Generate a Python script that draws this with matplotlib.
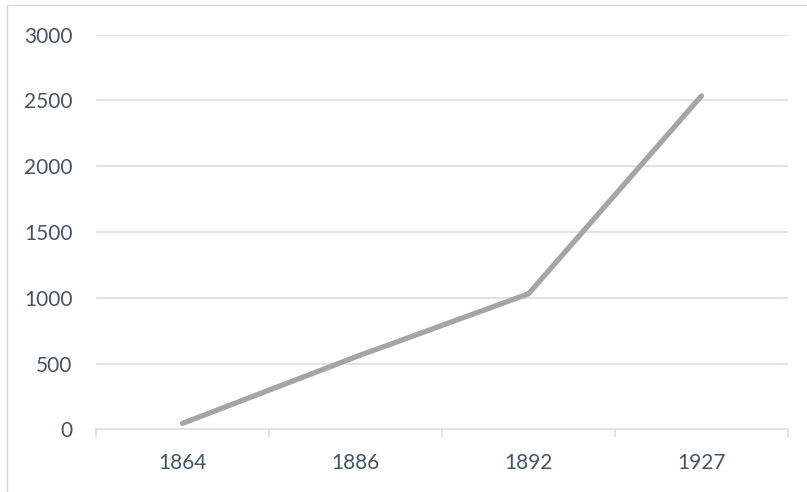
import matplotlib
matplotlib.use("Agg")
import matplotlib.pyplot as plt
from matplotlib.patches import Rectangle

categories = ["1864", "1886", "1892", "1927"]
values = [45, 550, 1030, 2535]
y_ticks = [0, 500, 1000, 1500, 2000, 2500, 3000]

W, H = 807, 492
fig = plt.figure(figsize=(W / 100, H / 100), dpi=100)
plt.rcParams['font.family'] = ['Lato', 'DejaVu Sans']

# chart-area border (only top & left visible)
fig.patches.append(Rectangle((7 / W, -0.1), 1.2, 1 - 4.5 / H + 0.1,
                             transform=fig.transFigure, fill=False,
                             edgecolor='#D9D9D9', linewidth=1.0))

left, right = 96 / W, 788 / W
bottom, top = 1 - 429.3 / H, 1 - 34.7 / H
ax = fig.add_axes([left, bottom, right - left, top - bottom])

x = list(range(len(categories)))
ax.plot(x, values, color='#A5A5A5', linewidth=3.8, solid_capstyle='round',
        solid_joinstyle='round', zorder=3)

ax.set_xlim(-0.5, len(categories) - 0.5)
ax.set_ylim(0, 3000)
ax.set_yticks(y_ticks)
ax.set_yticklabels([str(v) for v in y_ticks])
ax.set_xticks(x)
ax.set_xticklabels(categories)
ax.set_xticks([i - 0.5 for i in range(len(categories) + 1)], minor=True)

grid_c = '#D9DEE6'
for v in y_ticks[1:]:
    ax.axhline(v, color=grid_c, linewidth=1.2, zorder=1)

for s in ['top', 'right', 'left']:
    ax.spines[s].set_visible(False)
ax.spines['bottom'].set_color(grid_c)
ax.spines['bottom'].set_linewidth(1.2)

text_c = '#44546A'
ax.tick_params(axis='y', length=0, pad=17, labelsize=15, labelcolor=text_c)
ax.tick_params(axis='x', which='major', length=0, pad=17, labelsize=15,
               labelcolor=text_c)
ax.tick_params(axis='x', which='minor', length=6, width=1.2, color=grid_c)

fig.savefig('out.png', dpi=100)
